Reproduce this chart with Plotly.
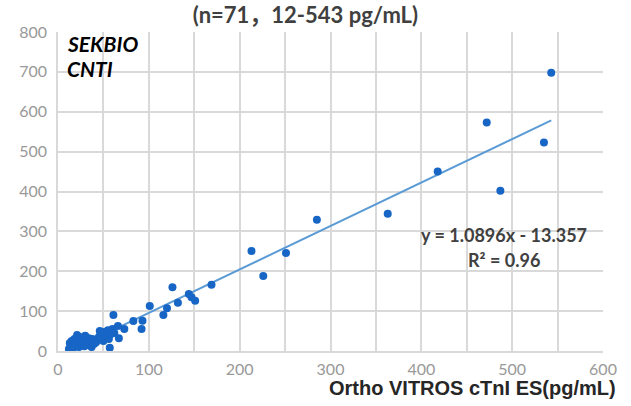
import plotly.graph_objects as go

# Ortho VITROS cTnI ES (x) vs SEKBIO CNTI (y), pg/mL
x_vals = [12, 13, 14, 15, 16, 17, 18, 19, 20, 21, 22, 23, 24, 25, 26, 27, 28, 29, 30, 31,
          32, 33, 34, 35, 36, 37, 38, 40, 42, 44, 45, 46, 47, 48, 49, 50, 52, 53, 54, 55,
          56, 57, 58, 60, 62,
          61, 66, 67, 73, 83, 93, 92, 101, 116, 120, 126, 132, 144, 147, 151, 169,
          213, 226, 251, 285, 363, 418, 472, 487, 535, 543]
y_vals = [5, 20, 12, 25, 18, 8, 30, 22, 15, 40, 28, 10, 35, 20, 18, 30, 25, 12, 38, 22,
          28, 15, 32, 20, 25, 10, 30, 18, 22, 28, 35, 50, 40, 30, 45, 25, 48, 35, 40, 52,
          30, 8, 42, 55, 45,
          90, 63, 32, 55, 75, 76, 55, 113, 90, 107, 160, 121, 143, 135, 126, 166,
          251, 188, 246, 329, 344, 450, 573, 402, 523, 698]

slope = 1.0896
intercept = -13.357
fit_x = [min(x_vals), max(x_vals)]
fit_y = [slope * v + intercept for v in fit_x]

x_ticks = [0, 100, 200, 300, 400, 500, 600]
y_ticks = [0, 100, 200, 300, 400, 500, 600, 700, 800]

title_text = "(n=71，12-543 pg/mL)"
x_title = "Ortho VITROS cTnI ES(pg/mL)"
eq_text = "y = 1.0896x - 13.357"
r2_text = "R² = 0.96"

fig = go.Figure()
fig.add_trace(go.Scatter(x=fit_x, y=fit_y, mode="lines",
                         line=dict(color="#5b9bd5", width=2), hoverinfo="skip"))
fig.add_trace(go.Scatter(x=x_vals, y=y_vals, mode="markers",
                         marker=dict(color="#1766c6", size=8)))

grid = "#d9d9d9"
tickfont = dict(family="Lato, Noto Sans", size=16, color="#999999")
fig.update_xaxes(range=[0, 600], tickvals=x_ticks, showgrid=True, gridcolor=grid, gridwidth=1.5,
                 minor=dict(dtick=50, showgrid=True, gridcolor=grid, gridwidth=1.5),
                 zeroline=False, showline=True, linecolor=grid, linewidth=1.5,
                 tickfont=tickfont, ticks="", ticklabelstandoff=3)
fig.update_yaxes(range=[0, 800], tickvals=y_ticks, showgrid=True, gridcolor=grid, gridwidth=1.5,
                 zeroline=False, showline=True, linecolor=grid, linewidth=1.5,
                 tickfont=tickfont, ticks="", ticklabelstandoff=6)

fig.update_layout(
    width=631, height=406,
    margin=dict(l=58, r=28, t=32, b=55),
    plot_bgcolor="white", paper_bgcolor="white",
    showlegend=False,
    title=dict(text="<b>" + title_text + "</b>", x=0.484, xanchor="center", y=1 - 15 / 406,
               yanchor="middle",
               font=dict(family="Lato, Noto Sans CJK SC", size=22, color="#404040")),
    annotations=[
        dict(text="<b>" + x_title + "</b>", xref="paper", yref="paper", x=1.028, y=-0.116,
             xanchor="right", yanchor="middle", showarrow=False,
             font=dict(family="Liberation Sans", size=20, color="#262626")),
        dict(text="<b><i>SEKBIO</i></b>", xref="paper", yref="paper", x=0.012, y=0.965,
             xanchor="left", yanchor="middle", showarrow=False,
             font=dict(family="Lato", size=21, color="#000000")),
        dict(text="<b><i>CNTI</i></b>", xref="paper", yref="paper", x=0.012, y=0.887,
             xanchor="left", yanchor="middle", showarrow=False,
             font=dict(family="Lato", size=21, color="#000000")),
        dict(text="<b>" + eq_text + "</b>", x=491, y=291, xanchor="center", yanchor="middle",
             showarrow=False, font=dict(family="Lato", size=18, color="#404040")),
        dict(text="<b>" + r2_text + "</b>", x=491, y=229, xanchor="center", yanchor="middle",
             showarrow=False, font=dict(family="Lato", size=18, color="#404040")),
    ],
)

fig.write_html("out.html", config={"displayModeBar": False},
               post_script="document.body.style.margin='0';")
